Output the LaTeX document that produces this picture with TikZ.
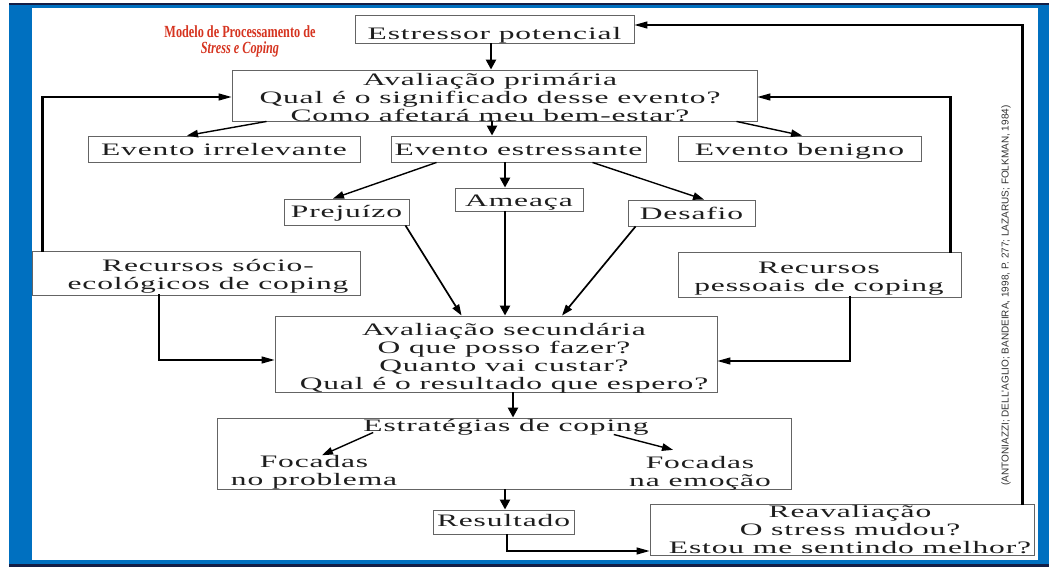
\documentclass[tikz,border=0pt]{standalone}
\usepackage{fontspec}
\setmainfont{Liberation Serif}[FakeStretch=1.8,LetterSpace=5]
\newfontfamily\titlefont{Liberation Serif}[FakeStretch=0.72]
\newfontfamily\citefont{Liberation Sans}
\usetikzlibrary{arrows.meta}
\definecolor{frameblue}{RGB}{0,112,192}
\definecolor{framenavy}{RGB}{20,30,70}
\definecolor{boxgray}{RGB}{100,100,100}
\definecolor{textc}{RGB}{30,30,30}
\definecolor{titlered}{RGB}{214,52,32}
\definecolor{citegray}{RGB}{50,50,50}
\newcommand\mainsz{\fontsize{17.5}{18}\selectfont}
\tikzset{
  box/.style={draw=boxgray, line width=0.9pt, inner sep=0pt, text depth=0pt, text=textc, font=\mainsz},
  tx/.style={align=center, inner sep=0pt, text=textc, font=\mainsz},
  arrthick/.style={line width=2.4pt, -{Triangle[length=10pt,width=10pt]}},
  arrthin/.style={line width=1.4pt, -{Triangle[length=11pt,width=7.5pt]}},
  loopv/.style={line width=2.8pt, line cap=rect},
  loopa/.style={line width=1.3pt, -{Triangle[length=13pt,width=7pt]}},
}
\begin{document}
\begin{tikzpicture}[x=1pt,y=-1pt]
\useasboundingbox (0,0) rectangle (1049,567);
% frame
\fill[white] (0,0) rectangle (1049,567);
\fill[frameblue] (9,3) rectangle (1049,567);
\fill[white] (32,8) rectangle (1038,560);
\draw[framenavy, line width=2pt] (9,4) -- (1049,4);
\draw[framenavy, line width=2.5pt] (9,565.5) -- (1049,565.5);

% title
\node[align=center, inner sep=0pt, text=titlered, font=\titlefont\bfseries\fontsize{17}{15.5}\selectfont] (title) at (240,41.2)
  {Modelo de Processamento de\\\itshape Stress e Coping};

% citation
\node[rotate=90, inner sep=0pt, text=citegray, font=\citefont\fontsize{10}{12}\selectfont] (cite) at (1006,295.5)
  {(ANTONIAZZI; DELL'AGLIO; BANDEIRA, 1998, P. 277; LAZARUS; FOLKMAN, 1984)};

% boxes
\node[box, minimum width=279pt, minimum height=28pt, text height=21pt] (est) at (494.5,29) {Estressor potencial};
\node[box, minimum width=525pt, minimum height=51pt] (prim) at (494.5,95.5) {};
\node[tx] (primT) at (490,97.5) {Avaliação primária\\Qual é o significado desse evento?\\Como afetará meu bem-estar?};
\node[box, minimum width=272pt, minimum height=26pt, text height=12pt] (irr) at (224,149) {Evento irrelevante};
\node[box, minimum width=255pt, minimum height=26pt, text height=12pt] (str) at (518.5,149) {Evento estressante};
\node[box, minimum width=243pt, minimum height=25pt, text height=14pt] (ben) at (799.5,148.5) {Evento benigno};
\node[box, minimum width=125pt, minimum height=26pt, text height=10.6pt] (prej) at (346.5,212) {Prejuízo};
\node[box, minimum width=128pt, minimum height=23pt, text height=13pt] (ame) at (519,199.5) {Ameaça};
\node[box, minimum width=127pt, minimum height=26pt, text height=13pt] (des) at (691.5,213) {Desafio};
\node[box, minimum width=328pt, minimum height=44pt] (socio) at (196,273) {};
\node[tx] (socioT) at (208,276.8) {Recursos sócio-\\ecológicos de coping};
\node[box, minimum width=283pt, minimum height=45pt] (pess) at (819.5,274.5) {};
\node[tx] (pessT) at (819,279) {Recursos\\pessoais de coping};
\node[box, minimum width=442pt, minimum height=76pt] (sec) at (496,354) {};
\node[tx] (secT) at (504,358) {Avaliação secundária\\O que posso fazer?\\Quanto vai custar?\\Qual é o resultado que espero?};
\node[box, minimum width=574pt, minimum height=71pt] (estr) at (504,453.5) {};
\node[tx, anchor=base] (estrT) at (506,431.5) {Estratégias de coping};
\node[tx] (focL) at (314,472.4) {Focadas\\no problema};
\node[tx] (focR) at (700,473) {Focadas\\na emoção};
\node[box, minimum width=141pt, minimum height=24pt, text height=9.4pt] (res) at (503.5,522) {Resultado};
\node[box, minimum width=384pt, minimum height=51pt] (reav) at (842,529.5) {};
\node[tx] (reavT) at (850,529.3) {Reavaliação\\O stress mudou?\\Estou me sentindo melhor?};

% connectors
\draw[arrthick] ([xshift=-3.5pt]est.south) -- ([xshift=-3.5pt]prim.north);
\draw[arrthin] ([xshift=35pt]prim.south west) -- ([xshift=-37pt]irr.north);
\draw[arrthick] ([xshift=-2.5pt]prim.south) -- ([xshift=-26.5pt]str.north);
\draw[arrthin] ([xshift=-21pt]prim.south east) -- ([xshift=2.5pt]ben.north);
\draw[arrthin] ([xshift=46pt]str.south west) -- ([xshift=-13.5pt]prej.north);
\draw[arrthick] ([xshift=-13.5pt]str.south) -- ([xshift=-14pt]ame.north);
\draw[arrthin] ([xshift=-54pt]str.south east) -- ([xshift=12.5pt]des.north);
\draw[arrthin, line width=1.7pt] ([xshift=-4pt]prej.south east) -- ([xshift=187pt]sec.north west);
\draw[arrthick] ([xshift=-14pt]ame.south) -- ([xshift=9pt]sec.north);
\draw[arrthin, line width=1.7pt] ([xshift=8pt]des.south west) -- ([xshift=66pt]sec.north);

% feedback loops to primary appraisal
\coordinate (sLb) at ([xshift=11pt]socio.north west);
\coordinate (pLb) at ([yshift=-1.5pt]prim.west);
\draw[loopa] (sLb) |- (pLb);
\draw[loopv] (sLb) -- (sLb |- pLb);
\coordinate (pRb) at ([xshift=-11pt]pess.north east);
\coordinate (prR) at ([yshift=-1.5pt]prim.east);
\draw[loopa] (pRb) |- (prR);
\draw[loopv] (pRb) -- (pRb |- prR);

% resources to secondary appraisal
\coordinate (sB) at ([xshift=-37pt]socio.south);
\coordinate (secL) at ([yshift=-6pt]sec.west);
\draw[loopa] (sB) |- (secL);
\draw[loopv] (sB) -- (sB |- secL);
\coordinate (pB) at ([xshift=30.5pt]pess.south);
\coordinate (secR) at ([yshift=-7pt]sec.east);
\draw[loopa] (pB) |- (secR);
\draw[loopv] (pB) -- (pB |- secR);

\draw[arrthick] ([xshift=17pt]sec.south) -- ([xshift=9pt]estr.north);
\draw[arrthin] ([xshift=10pt,yshift=3pt]estrT.south west) -- ([xshift=8pt]focL.north);
\draw[arrthin] ([xshift=-35pt,yshift=1pt]estrT.south east) -- ([xshift=-27pt,yshift=6pt]focR.north);
\draw[arrthick] ([xshift=1pt]estr.south) -- ([xshift=1.5pt]res.north);

\coordinate (rB) at ([xshift=3.5pt]res.south);
\coordinate (rvL) at ([yshift=-21.5pt]reav.west);
\draw[loopa] (rB) |- (rvL);
\coordinate (rvT) at ([xshift=-12pt]reav.north east);
\coordinate (estR) at ([yshift=4pt]est.east);
\draw[loopa] (rvT) |- (estR);
\draw[loopv] (rvT) -- (rvT |- estR);
\end{tikzpicture}
\end{document}
